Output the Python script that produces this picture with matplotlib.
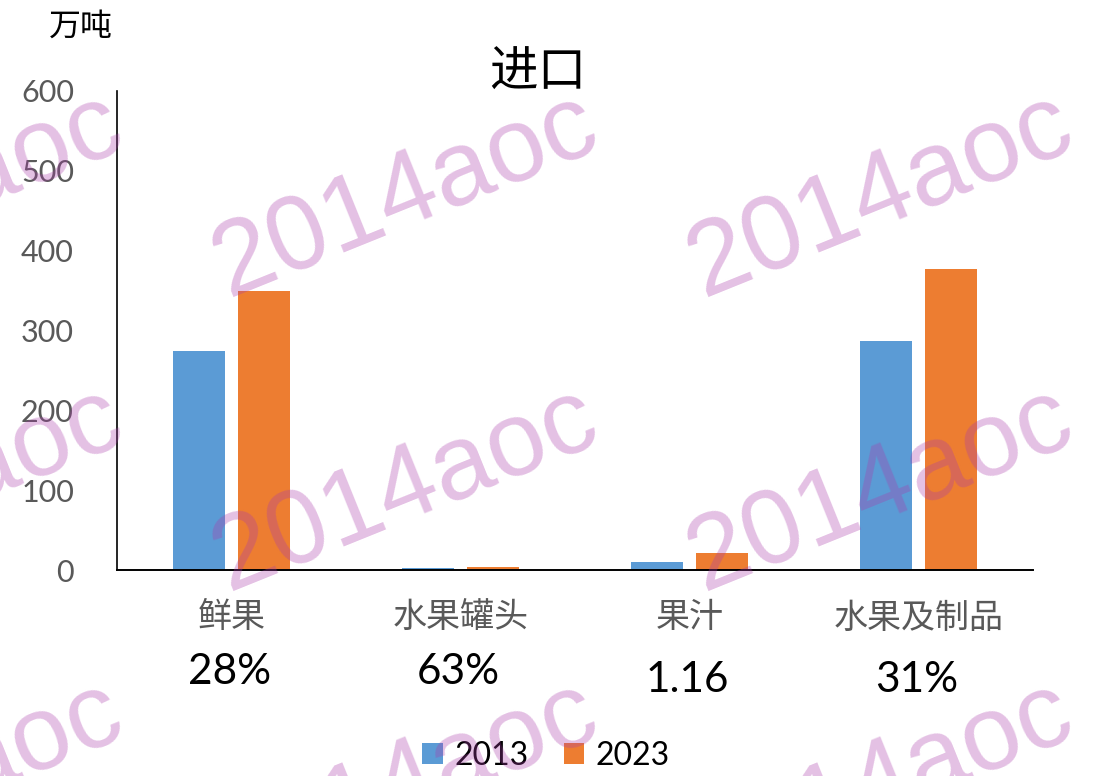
import matplotlib
matplotlib.use("Agg")
import matplotlib.pyplot as plt
import numpy as np
from matplotlib.patches import Patch

# ---- data ----
categories = ["鲜果", "水果罐头", "果汁", "水果及制品"]
series_names = ["2013", "2023"]
values_2013 = [274, 2, 9.5, 287]
values_2023 = [350, 4, 21, 377]
growth_labels = ["28%", "63%", "1.16", "31%"]
yticks = [0, 100, 200, 300, 400, 500, 600]
title = "进口"
unit = "万吨"
watermark = "2014aoc"

W, H = 1099, 776
fig = plt.figure(figsize=(W / 100, H / 100), dpi=100)
fig.patch.set_facecolor("white")

def fx(px):
    return px / W

def fy(py):
    return 1 - py / H

ax = fig.add_axes([fx(117), fy(570), fx(1033) - fx(117), fy(91) - fy(570)])

blue = "#5B9BD5"
orange = "#ED7D31"
x = np.arange(len(categories))
bw = 0.223
off = 0.142
ax.bar(x - off, values_2013, bw, color=blue, zorder=2)
ax.bar(x + off, values_2023, bw, color=orange, zorder=2)

ax.set_xlim(-0.5, len(categories) - 0.5)
ax.set_ylim(0, 600)
ax.set_yticks(yticks)
ax.set_yticklabels([str(t) for t in yticks], fontsize=22, color="#595959",
                   family=["Lato", "DejaVu Sans"])
ax.tick_params(axis="y", length=0, pad=31)
ax.set_xticks([])
for s in ["top", "right"]:
    ax.spines[s].set_visible(False)
ax.spines["left"].set_color("black")
ax.spines["bottom"].set_color("black")
ax.spines["left"].set_linewidth(1.2)
ax.spines["bottom"].set_linewidth(1.4)
ax.set_facecolor("none")

cjk = ["Noto Sans CJK SC", "DejaVu Sans"]

# category labels and growth labels
cat_y = [618, 618, 618, 618]
grow_y = [672, 672, 680, 680]
for i, (c, g) in enumerate(zip(categories, growth_labels)):
    xd = ax.transData.transform((x[i], 0))[0]
    fig.text(xd / W, fy(cat_y[i]), c, ha="center", va="center",
             fontsize=24.5, color="#595959", family=cjk)
    fig.text(xd / W - 0.002, fy(grow_y[i]), g, ha="center", va="center",
             fontsize=30.5, color="black", family=["Lato", "DejaVu Sans"])

fig.text(fx(538), fy(73), title, ha="center", va="center", fontsize=35,
         color="black", family=cjk)
fig.text(fx(81), fy(27), unit, ha="center", va="center", fontsize=23,
         color="black", family=cjk)

handles = [Patch(facecolor=blue), Patch(facecolor=orange)]
fig.legend(handles, series_names, loc="center", bbox_to_anchor=(fx(546), fy(756)),
           ncol=2, frameon=False, handlelength=0.65, handleheight=0.65,
           handletextpad=0.35, columnspacing=1.1,
           prop={"family": ["Lato", "DejaVu Sans"], "size": 23})

# watermarks
wm_x = [-69, 406, 881]
wm_y = [196, 490, 784]
for yy in wm_y:
    for xx in wm_x:
        fig.text(fx(xx), fy(yy), watermark, ha="center", va="center", rotation=22,
                 fontsize=76, color=(0.667, 0.235, 0.667), alpha=0.32,
                 family=["Liberation Sans", "DejaVu Sans"], zorder=10)

fig.savefig("out.png", dpi=100)
